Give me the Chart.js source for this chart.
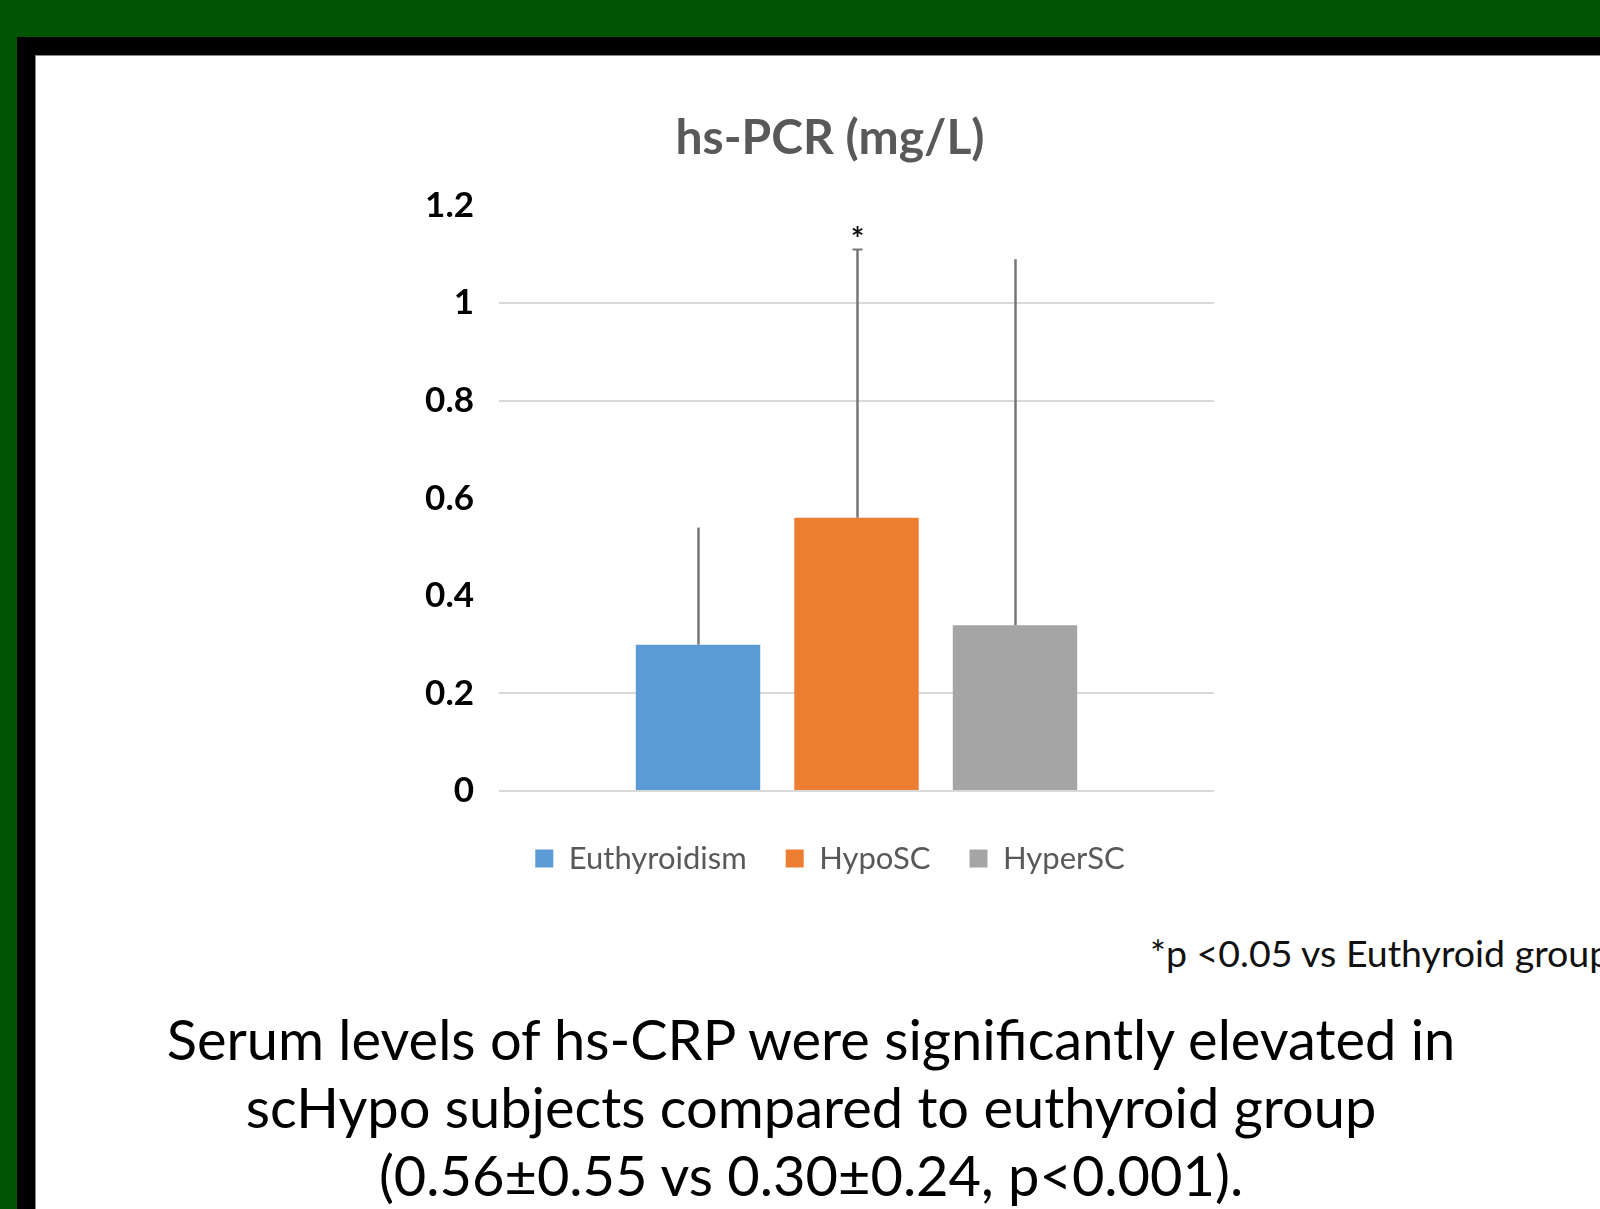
<!DOCTYPE html>
<html>
<head>
<meta charset="utf-8">
<script src="https://cdn.jsdelivr.net/npm/chart.js@4.4.1/dist/chart.umd.min.js"></script>
<style>
  html, body { margin: 0; padding: 0; width: 1600px; height: 1209px; overflow: hidden; background: #015401; }
  #frameBlack { position: absolute; left: 17px; top: 37px; width: 1700px; height: 1300px; background: #000; }
  #frameWhite { position: absolute; left: 35px; top: 55px; width: 1700px; height: 1300px; background: #fff; border-left: 1px solid #8a8a8a; border-top: 1px solid #8a8a8a; }
  #chartBox { position: absolute; left: 0; top: 0; width: 1600px; height: 920px; }
  #note { position: absolute; left: 1150px; top: 933px; font-family: Lato, sans-serif; font-size: 37.5px; line-height: 40px; color: #111; white-space: nowrap; }
  #caption { position: absolute; left: 11px; top: 1005px; width: 1600px; text-align: center; font-family: Lato, sans-serif; font-size: 52px; line-height: 68px; color: #000; white-space: nowrap; }
</style>
</head>
<body>
<div id="frameBlack"></div>
<div id="frameWhite"></div>
<div id="chartBox"><canvas id="c" width="1600" height="920"></canvas></div>
<div id="note">*p &lt;0.05 vs Euthyroid group</div>
<div id="caption"><div id="cap1">Serum levels of hs-CRP were significantly elevated in</div><div>scHypo subjects compared to euthyroid group</div><div>(0.56±0.55 vs 0.30±0.24, p&lt;0.001).</div></div>
<script>
// ---- data ----
const categories = [''];
const seriesNames = ['Euthyroidism', 'HypoSC', 'HyperSC'];
const seriesMeans = [0.30, 0.56, 0.34];
const seriesSD = [0.24, 0.55, 0.75];
const seriesMarks = ['', '*', ''];
const seriesCaps = [false, true, false];
const seriesColors = ['#5B9BD5', '#ED7D31', '#A5A5A5'];
const yTickLabels = ['0', '0.2', '0.4', '0.6', '0.8', '1', '1.2'];
const yGridShown = [0, 0.2, 0.8, 1];

// fit caption font size to reference width
(function () {
  const cv = document.createElement('canvas').getContext('2d');
  cv.font = '100px Lato';
  const w = cv.measureText(document.getElementById('cap1').textContent).width;
  const size = 100 * 1294 / w;
  document.getElementById('caption').style.fontSize = size.toFixed(2) + 'px';
})();

const errorBarPlugin = {
  id: 'errorBars',
  afterDatasetsDraw(chart) {
    const ctx = chart.ctx;
    const yScale = chart.scales.y;
    ctx.save();
    chart.data.datasets.forEach((ds, i) => {
      const meta = chart.getDatasetMeta(i);
      meta.data.forEach((bar, j) => {
        const top = yScale.getPixelForValue(ds.data[j] + ds.sd[j]);
        const x = Math.round(bar.x) + 0.5;
        ctx.strokeStyle = '#767676';
        ctx.lineWidth = 2.5;
        ctx.beginPath();
        ctx.moveTo(x, bar.y);
        ctx.lineTo(x, top);
        ctx.stroke();
        if (ds.cap) {
          ctx.lineWidth = 2;
          ctx.beginPath();
          ctx.moveTo(x - 5, top);
          ctx.lineTo(x + 5, top);
          ctx.stroke();
        }
        if (ds.mark) {
          ctx.font = 'bold 32px Lato';
          ctx.fillStyle = '#111';
          ctx.textAlign = 'center';
          ctx.textBaseline = 'alphabetic';
          const m = ctx.measureText(ds.mark);
          const cy = top - 19;
          const base = cy + (m.actualBoundingBoxAscent - m.actualBoundingBoxDescent) / 2;
          ctx.fillText(ds.mark, x, base);
        }
      });
    });
    ctx.restore();
  }
};

const datasets = seriesNames.map((name, i) => ({
  label: name,
  data: [seriesMeans[i]],
  sd: [seriesSD[i]],
  mark: seriesMarks[i],
  cap: seriesCaps[i],
  backgroundColor: seriesColors[i],
  borderWidth: 0,
  categoryPercentage: 0.665,
  barPercentage: 0.785
}));

new Chart(document.getElementById('c'), {
  type: 'bar',
  data: { labels: categories, datasets: datasets },
  plugins: [errorBarPlugin],
  options: {
    responsive: false,
    animation: false,
    devicePixelRatio: 1,
    layout: { padding: { left: 410, right: 350, top: 0, bottom: 36 } },
    plugins: {
      title: {
        display: true,
        text: 'hs-PCR (mg/L)',
        color: '#595959',
        font: { family: 'Lato', size: 48, weight: 'bold', lineHeight: 1.2 },
        padding: { top: 110, bottom: 38 }
      },
      legend: {
        position: 'bottom',
        labels: {
          color: '#595959',
          font: { family: 'Lato', size: 31 },
          boxWidth: 18,
          boxHeight: 18,
          padding: 39
        }
      },
      tooltip: { enabled: false }
    },
    scales: {
      x: {
        display: true,
        ticks: { display: false },
        grid: { display: false, drawTicks: true, tickLength: 13 },
        border: { display: false }
      },
      y: {
        min: 0,
        max: 1.2,
        afterFit(scale) { scale.width = 89; },
        ticks: {
          stepSize: 0.2,
          padding: 25,
          color: '#000',
          font: { family: 'Lato', size: 35, weight: 'bold' },
          callback: (v, idx) => yTickLabels[idx]
        },
        grid: {
          drawTicks: false,
          lineWidth: 2,
          color: (c) => {
            const v = c.tick ? c.tick.value : NaN;
            return yGridShown.some(g => Math.abs(g - v) < 1e-6) ? '#D9D9D9' : 'rgba(0,0,0,0)';
          }
        },
        border: { display: false }
      },
      yPad: {
        position: 'right',
        display: true,
        afterFit(scale) { scale.width = 36; },
        ticks: { display: false },
        grid: { display: false, drawTicks: false },
        border: { display: false }
      }
    }
  }
});
</script>
</body>
</html>
